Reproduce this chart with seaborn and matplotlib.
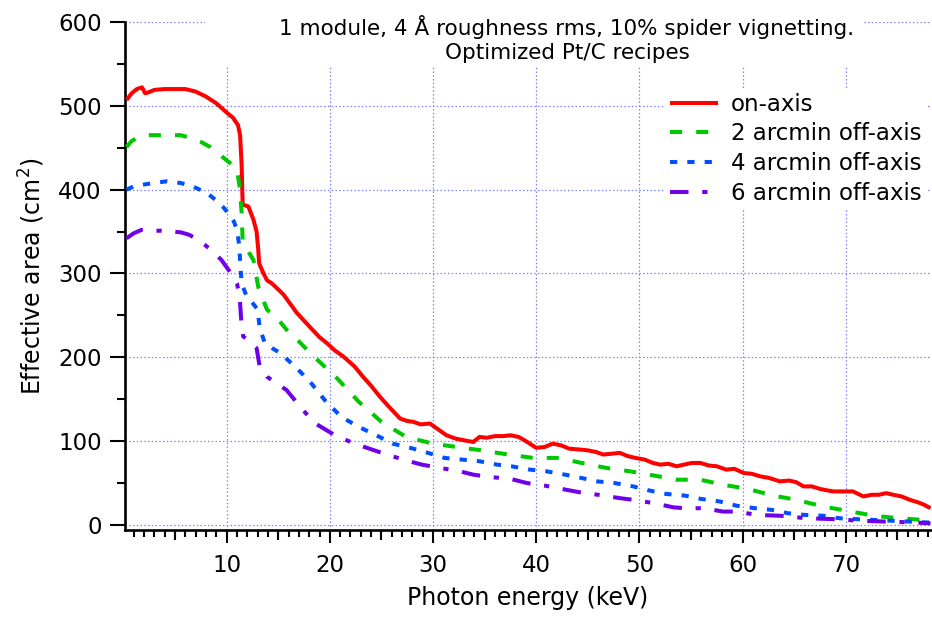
import matplotlib
matplotlib.use("Agg")
import matplotlib.pyplot as plt
from matplotlib.patches import Rectangle
from matplotlib.ticker import MultipleLocator
import numpy as np
import pandas as pd
import seaborn as sns

# ---------------- data ----------------
series_names = ["on-axis", "2 arcmin off-axis", "4 arcmin off-axis", "6 arcmin off-axis"]

energy_on = [0.3, 0.8, 1.3, 1.8, 2.1, 2.4, 3.0, 4.0, 5.0, 6.0, 7.0, 8.0, 9.0, 10.0, 10.6,
             11.1, 11.3, 11.45, 11.55, 12.1, 12.6, 12.9, 13.05, 13.15, 13.5, 13.9, 14.4,
             15.5, 16.8, 18.0, 19.0, 19.7, 20.5, 21.3, 22.4, 23.2, 24.0, 24.85, 25.8, 26.8,
             27.5, 28.1, 28.8, 29.7, 30.5, 31.3, 32.2, 33.0, 33.9, 34.5, 35.2, 36.0, 36.8,
             37.5, 38.3, 39.0, 40.0, 40.8, 41.6, 42.4, 43.2, 44.2, 45.0, 45.8, 46.5, 47.3,
             48.1, 48.9, 49.6, 50.5, 51.3, 52.0, 52.8, 53.6, 54.3, 55.1, 55.9, 56.7, 57.5,
             58.4, 59.2, 60.1, 60.9, 61.7, 62.6, 63.6, 64.5, 65.2, 65.9, 66.7, 67.5, 68.3,
             68.8, 69.6, 70.7, 71.7, 72.5, 73.2, 73.9, 74.6, 75.4, 76.2, 77.0, 77.6, 78.2]
area_on = [507, 515, 520, 522, 515, 516, 519, 520, 520, 520, 517, 511, 503, 492, 486,
           477, 465, 430, 382, 380, 364, 350, 330, 312, 302, 292, 288,
           275, 253, 237, 224, 217, 208, 201, 189, 177, 166, 153, 140, 127,
           124, 123, 120, 121, 114, 107, 103, 101, 99, 105, 104, 106, 106,
           107, 105, 100, 92, 93, 97, 95, 91, 90, 89, 87, 84, 85,
           86, 82, 80, 78, 74, 72, 73, 70, 72, 74, 74, 71, 70,
           66, 67, 62, 61, 58, 56, 52, 53, 51, 46, 46, 43, 41,
           40, 40, 40, 34, 36, 36, 38, 36, 34, 30, 27, 24, 20]

energy_2 = [0.3, 0.8, 1.5, 2.5, 3.5, 4.5, 5.5, 6.5, 7.5, 8.4, 9.2, 10.0, 10.6, 11.0, 11.3,
            11.45, 11.55, 12.0, 12.6, 13.06, 13.9, 15.0, 15.8, 17.0, 18.1, 19.4, 20.7, 22.8,
            25.0, 27.4, 30.0, 32.3, 34.7, 37.3, 39.7, 42.0, 44.4, 46.8, 49.1, 51.4, 53.6,
            55.9, 58.1, 60.5, 63.0, 65.2, 67.8, 70.1, 72.7, 75.2, 77.5, 78.2]
area_2 = [451, 458, 463, 465, 465, 465, 465, 462, 457, 451, 443, 435, 429, 424, 400,
          372, 340, 328, 316, 284, 257, 245, 233, 219, 205, 190, 175, 147,
          123, 105, 97, 93, 89, 84, 80, 80, 74, 68, 64, 59, 54,
          54, 48, 43, 35, 30, 22, 17, 11, 8, 6, 5]

energy_4 = [0.3, 1.0, 1.9, 3.0, 4.2, 5.5, 6.5, 7.4, 8.2, 8.9, 9.6, 10.3, 10.7, 11.0, 11.2,
            11.3, 11.45, 11.9, 12.5, 13.0, 13.2, 13.7, 14.4, 15.2, 16.8, 18.2, 19.5, 21.1,
            22.8, 24.5, 26.1, 27.8, 29.5, 31.1, 32.8, 34.5, 36.2, 37.6, 39.4, 41.0, 42.8,
            44.4, 45.9, 47.6, 49.4, 51.0, 52.6, 54.4, 56.0, 57.8, 59.4, 61.2, 62.8, 64.4,
            66.0, 67.8, 69.4, 71.0, 72.7, 74.6, 76.2, 77.8, 78.2]
area_4 = [400, 404, 406, 408, 410, 408, 405, 400, 395, 388, 380, 370, 362, 352, 335,
          316, 288, 274, 265, 257, 235, 217, 211, 205, 187, 169, 149, 129,
          117, 107, 97, 92, 86, 80, 78, 76, 72, 70, 66, 64, 60,
          56, 52, 50, 46, 41, 37, 35, 31, 28, 23, 20, 18, 14,
          12, 11, 8, 7, 6, 5, 4, 3, 3]

energy_6 = [0.3, 1.0, 1.75, 2.7, 3.7, 4.7, 5.6, 6.4, 7.1, 7.9, 8.7, 9.5, 10.2, 10.6, 11.0,
            11.2, 11.3, 11.45, 11.6, 12.3, 12.9, 13.2, 13.9, 14.8, 15.8, 17.4, 18.6, 20.5,
            22.4, 23.6, 25.5, 27.4, 28.9, 30.7, 32.6, 33.9, 35.7, 37.5, 39.1, 40.8, 42.9,
            44.2, 46.0, 48.1, 49.4, 51.4, 53.3, 54.4, 56.2, 58.1, 59.4, 61.4, 63.6, 66.2,
            68.8, 71.4, 74.0, 76.5, 78.2]
area_6 = [342, 348, 352, 351, 351, 350, 349, 346, 341, 334, 326, 316, 304, 297, 288,
          276, 265, 237, 225, 218, 211, 189, 177, 169, 161, 137, 121, 107,
          97, 92, 84, 77, 72, 68, 64, 60, 57, 55, 50, 47, 42,
          39, 36, 32, 30, 26, 21, 20, 20, 16, 16, 12, 11, 8,
          7, 5, 4, 3, 2]

x_ticks = [10, 20, 30, 40, 50, 60, 70]
y_ticks = [0, 100, 200, 300, 400, 500, 600]
title_lines = ["1 module, 4 \u00c5 roughness rms, 10% spider vignetting.",
               "Optimized Pt/C recipes"]
x_label = "Photon energy (keV)"
y_label = "Effective area (cm$^{2}$)"

# ---------------- build long table ----------------
frames = []
for name, e, a in zip(series_names,
                      [energy_on, energy_2, energy_4, energy_6],
                      [area_on, area_2, area_4, area_6]):
    frames.append(pd.DataFrame({"energy": e, "area": a, "series": name}))
df = pd.concat(frames, ignore_index=True)

# ---------------- style ----------------
sns.set_theme(style="white")
plt.rcParams["font.family"] = ["DejaVu Sans"]
for k in ["text.color", "axes.labelcolor", "xtick.color", "ytick.color", "axes.edgecolor"]:
    plt.rcParams[k] = "black"

W, H = 932, 617
fig = plt.figure(figsize=(W / 100, H / 100), dpi=100)
ax = fig.add_axes([125 / W, 1 - 530 / H, (931 - 125) / W, (530 - 22) / H])

palette = {series_names[0]: "#ff0000", series_names[1]: "#00c800",
           series_names[2]: "#0050ff", series_names[3]: "#7000e8"}
lw = 2.9
dashes = {series_names[0]: "",
          series_names[1]: (3.0, 3.5),
          series_names[2]: (1.8, 2.5),
          series_names[3]: (4.6, 3.4, 1.3, 3.4)}

sns.lineplot(data=df, x="energy", y="area", hue="series", style="series",
             hue_order=series_names, style_order=series_names,
             palette=palette, dashes=dashes, linewidth=lw, sort=False,
             estimator=None, legend=False, ax=ax)
for ln in ax.lines:
    ln.set_dash_capstyle("butt")
    ln.set_solid_capstyle("butt")
    ln.set_zorder(3)

ax.set_xlim(0.15, 78.25)
ax.set_ylim(-6, 600)
ax.set_xticks(x_ticks)
ax.set_yticks(y_ticks)
ax.xaxis.set_minor_locator(MultipleLocator(1))
ax.yaxis.set_minor_locator(MultipleLocator(50))

for s in ["top", "right"]:
    ax.spines[s].set_visible(False)
for s in ["left", "bottom"]:
    ax.spines[s].set_linewidth(1.9)
    ax.spines[s].set_color("black")

ax.tick_params(axis="y", which="major", direction="out", length=10.8, width=1.5,
               labelsize=16.5, pad=6, color="black", labelcolor="black")
ax.tick_params(axis="y", which="minor", direction="out", length=5.8, width=1.5, color="black")
ax.tick_params(axis="x", which="major", direction="out", length=9.4, width=1.5,
               labelsize=16.5, pad=8, color="black", labelcolor="black")
ax.tick_params(axis="x", which="minor", direction="out", length=5.0, width=1.5, color="black")
ax.tick_params(axis="both", which="both", left=True, bottom=True)

secax = ax.secondary_xaxis("bottom")
secax.set_xticks([5, 15, 25, 35, 45, 55, 65, 75])
secax.tick_params(direction="out", length=7.2, width=1.5, labelbottom=False, color="black")
secax.spines["bottom"].set_visible(False)

ax.grid(True, which="major", color="#8080ff", linestyle=(0, (1.2, 1.8)), linewidth=0.9)
ax.set_axisbelow(True)

ax.set_xlabel(x_label, fontsize=17, labelpad=6, color="black")
ax.set_ylabel(y_label, fontsize=17, labelpad=8, color="black")

# title box (white background covering the grid)
ax.add_patch(Rectangle((205 / W, 1 - 67 / H), (862 - 205) / W, 67 / H,
                       transform=fig.transFigure, facecolor="white",
                       edgecolor="none", zorder=1, clip_on=False))
fig.text(567 / W, 1 - 27 / H, title_lines[0], ha="center", va="center",
         fontsize=15.5, color="black")
fig.text(567 / W, 1 - 53 / H, title_lines[1], ha="center", va="center",
         fontsize=15.5, color="black")

leg = ax.legend(handles=ax.lines[:4], labels=series_names, loc="upper left",
                bbox_to_anchor=(665 / W, 1 - 87.5 / H), bbox_transform=fig.transFigure,
                borderaxespad=0, borderpad=0.22, handlelength=2.1, handletextpad=0.57,
                labelspacing=0.30, fontsize=16.5, frameon=True, fancybox=False,
                facecolor="white", edgecolor="none", framealpha=1)
for t in leg.get_texts():
    t.set_color("black")
leg.set_zorder(4)

fig.savefig("out.png", dpi=100)
